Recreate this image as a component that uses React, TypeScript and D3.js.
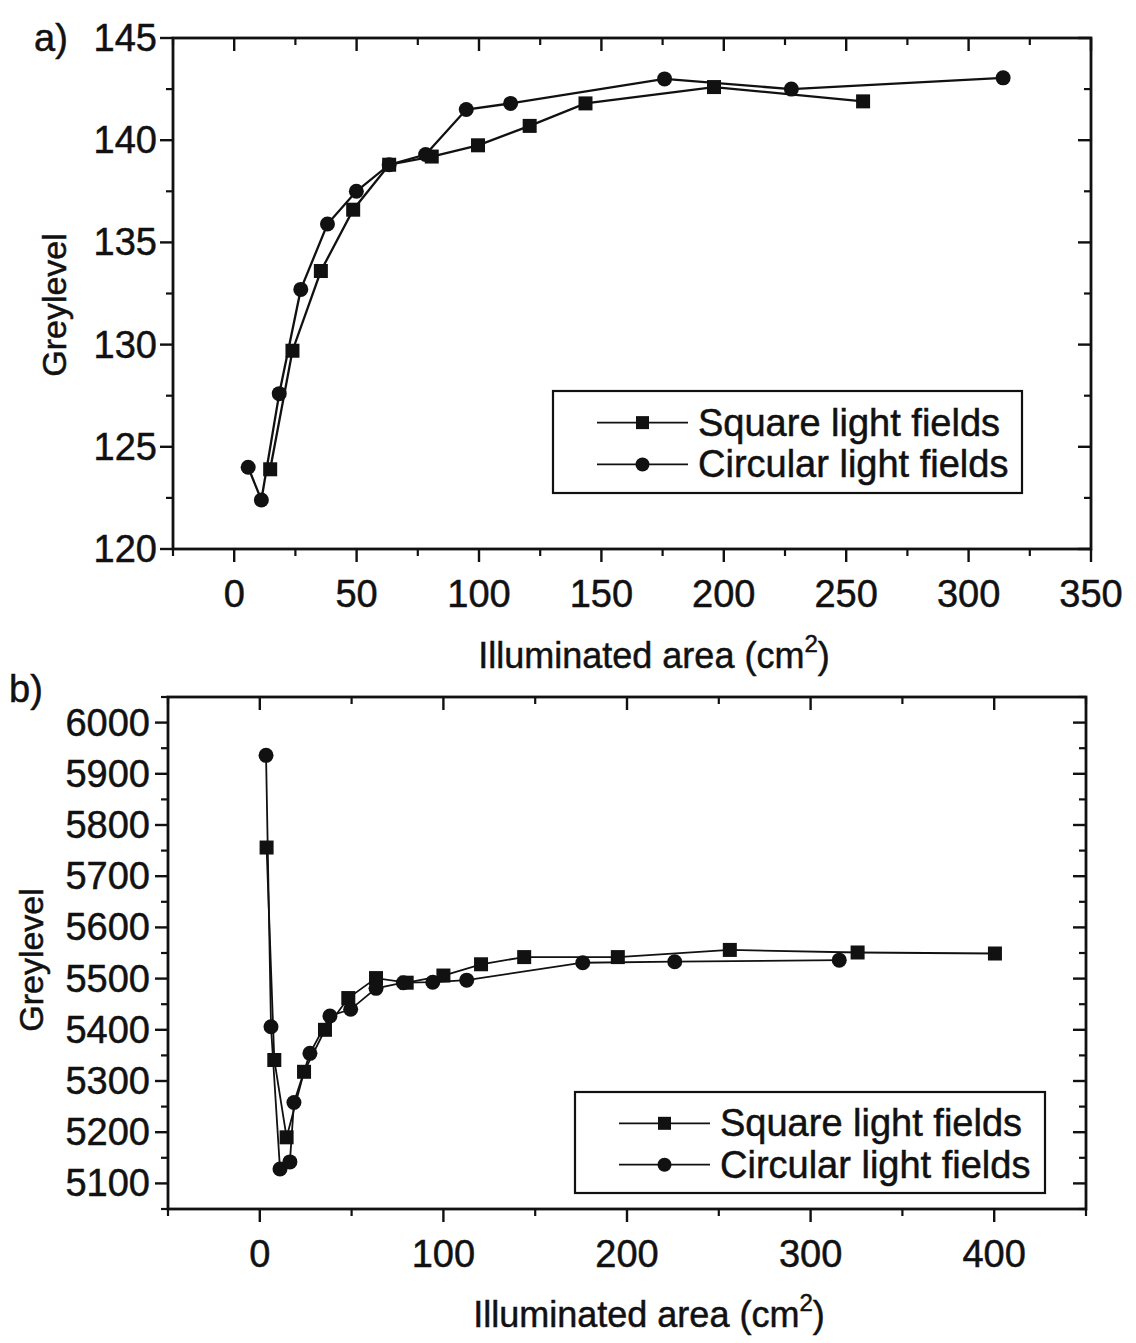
import React from "react";
import * as d3 from "d3";

// Panel a data
const squareAreaA = [14.7, 23.8, 35.4, 48.6, 63.3, 80.7, 99.6, 120.7, 143.5, 196, 256.9];
const squareGreyA = [123.9, 129.7, 133.6, 136.6, 138.8, 139.2, 139.75, 140.7, 141.8, 142.6, 141.9];
const circleAreaA = [5.7, 11.1, 18.4, 27.2, 38.1, 49.9, 63.3, 78.2, 94.8, 112.9, 175.8, 227.6, 314.1];
const circleGreyA = [124.0, 122.4, 127.6, 132.7, 135.9, 137.5, 138.8, 139.3, 141.5, 141.8, 143.0, 142.5, 143.05];

// Panel b data
const squareAreaB = [3.7, 7.9, 14.6, 24.1, 35.5, 48.2, 63.3, 80, 100, 120.5, 144, 195, 256, 325.6, 400.4];
const squareGreyB = [5756, 5341, 5190, 5318, 5400, 5462, 5501, 5492, 5506, 5528, 5542, 5542, 5556, 5551, 5549];
const circleAreaB = [3.4, 6.1, 11, 16.4, 18.6, 27.3, 38.2, 49.5, 63.3, 78.2, 94.2, 112.7, 175.9, 226, 315.6];
const circleGreyB = [5936, 5406, 5128, 5142, 5258, 5354, 5427, 5440, 5481, 5492, 5493, 5497, 5531, 5533, 5536];

const xTicksA = [0, 50, 100, 150, 200, 250, 300, 350];
const xMinorA = [-25, 25, 75, 125, 175, 225, 275, 325];
const yTicksA = [120, 125, 130, 135, 140, 145];
const yMinorA = [122.5, 127.5, 132.5, 137.5, 142.5];
const xTicksB = [0, 100, 200, 300, 400];
const xMinorB = [-50, 50, 150, 250, 350, 450];
const yTicksB = [5100, 5200, 5300, 5400, 5500, 5600, 5700, 5800, 5900, 6000];
const yMinorB = [5050, 5150, 5250, 5350, 5450, 5550, 5650, 5750, 5850, 5950, 6050];

const legendLabels = ["Square light fields", "Circular light fields"];

const FONT = "'Liberation Sans', Arial, Helvetica, sans-serif";
const INK = "#111";

type PanelProps = {
  x: d3.ScaleLinear<number, number>;
  y: d3.ScaleLinear<number, number>;
  xTicks: number[];
  xMinor: number[];
  yTicks: number[];
  yMinor: number[];
  sq: [number[], number[]];
  ci: [number[], number[]];
  label: string;
  labelPos: [number, number];
  yTitlePos: [number, number];
  xTitleY: number;
  legend: { x: number; y: number; w: number; h: number };
  lineW: number;
  yLabelGap: number;
};

const textStyle = { stroke: INK, strokeWidth: 0.5 } as const;

function Panel(p: PanelProps) {
  const [x0, x1] = p.x.range();
  const [y0, y1] = p.y.range();
  const line = d3
    .line<[number, number]>()
    .x((d) => p.x(d[0]))
    .y((d) => p.y(d[1]));
  const sqPts: [number, number][] = p.sq[0].map((a, i) => [a, p.sq[1][i]]);
  const ciPts: [number, number][] = p.ci[0].map((a, i) => [a, p.ci[1][i]]);
  const maj = 13;
  const min = 7;
  const sqSize = 14;
  const r = 7.5;
  const lg = p.legend;
  const row1 = lg.y + lg.h * 0.31;
  const row2 = lg.y + lg.h * 0.72;
  const lx0 = lg.x + 44;
  const lx1 = lg.x + 135;
  const lm = (lx0 + lx1) / 2;
  return (
    <g>
      <text x={p.labelPos[0]} y={p.labelPos[1]} fontSize={38} fontFamily={FONT} fill={INK} style={textStyle}>
        {p.label}
      </text>
      <rect x={x0} y={y1} width={x1 - x0} height={y0 - y1} fill="none" stroke={INK} strokeWidth={2.8} />
      {p.xTicks.map((t) => (
        <g key={"xt" + t}>
          <line x1={p.x(t)} x2={p.x(t)} y1={y0} y2={y0 + maj} stroke={INK} strokeWidth={2.4} />
          <line x1={p.x(t)} x2={p.x(t)} y1={y1} y2={y1 + maj} stroke={INK} strokeWidth={2.4} />
          <text x={p.x(t)} y={y0 + 58} textAnchor="middle" fontSize={38} fontFamily={FONT} fill={INK} style={textStyle}>
            {t}
          </text>
        </g>
      ))}
      {p.xMinor.map((t) => (
        <g key={"xm" + t}>
          <line x1={p.x(t)} x2={p.x(t)} y1={y0} y2={y0 + min} stroke={INK} strokeWidth={2.2} />
          <line x1={p.x(t)} x2={p.x(t)} y1={y1} y2={y1 + min} stroke={INK} strokeWidth={2.2} />
        </g>
      ))}
      {p.yTicks.map((t) => (
        <g key={"yt" + t}>
          <line x1={x0 - maj} x2={x0} y1={p.y(t)} y2={p.y(t)} stroke={INK} strokeWidth={2.4} />
          <line x1={x1 - maj} x2={x1} y1={p.y(t)} y2={p.y(t)} stroke={INK} strokeWidth={2.4} />
          <text
            x={x0 - p.yLabelGap}
            y={p.y(t) + 13}
            textAnchor="end"
            fontSize={38}
            fontFamily={FONT}
            fill={INK}
            style={textStyle}
          >
            {t}
          </text>
        </g>
      ))}
      {p.yMinor.map((t) => (
        <g key={"ym" + t}>
          <line x1={x0 - min} x2={x0} y1={p.y(t)} y2={p.y(t)} stroke={INK} strokeWidth={2.2} />
          <line x1={x1 - min} x2={x1} y1={p.y(t)} y2={p.y(t)} stroke={INK} strokeWidth={2.2} />
        </g>
      ))}
      <text
        transform={`translate(${p.yTitlePos[0]},${p.yTitlePos[1]}) rotate(-90)`}
        textAnchor="middle"
        fontSize={34}
        fontFamily={FONT}
        fill={INK}
        style={textStyle}
      >
        Greylevel
      </text>
      <text x={(x0 + x1) / 2 + 22} y={p.xTitleY} textAnchor="middle" fontSize={36} fontFamily={FONT} fill={INK} style={textStyle}>
        Illuminated area (cm
        <tspan fontSize={24} dy={-16}>
          2
        </tspan>
        <tspan dy={16}>)</tspan>
      </text>
      <path d={line(sqPts) || ""} fill="none" stroke={INK} strokeWidth={p.lineW} />
      <path d={line(ciPts) || ""} fill="none" stroke={INK} strokeWidth={p.lineW} />
      {sqPts.map((d, i) => (
        <rect
          key={"s" + i}
          x={p.x(d[0]) - sqSize / 2}
          y={p.y(d[1]) - sqSize / 2}
          width={sqSize}
          height={sqSize}
          fill={INK}
        />
      ))}
      {ciPts.map((d, i) => (
        <circle key={"c" + i} cx={p.x(d[0])} cy={p.y(d[1])} r={r} fill={INK} />
      ))}
      <rect x={lg.x} y={lg.y} width={lg.w} height={lg.h} fill="#fff" stroke={INK} strokeWidth={2.2} />
      <line x1={lx0} x2={lx1} y1={row1} y2={row1} stroke={INK} strokeWidth={1.8} />
      <rect x={lm - 6.5} y={row1 - 6.5} width={13} height={13} fill={INK} />
      <text x={lx1 + 10} y={row1 + 13} fontSize={38} fontFamily={FONT} fill={INK} style={textStyle}>
        {legendLabels[0]}
      </text>
      <line x1={lx0} x2={lx1} y1={row2} y2={row2} stroke={INK} strokeWidth={1.8} />
      <circle cx={lm} cy={row2} r={7} fill={INK} />
      <text x={lx1 + 10} y={row2 + 13} fontSize={38} fontFamily={FONT} fill={INK} style={textStyle}>
        {legendLabels[1]}
      </text>
    </g>
  );
}

export default function App() {
  const xA = d3.scaleLinear().domain([-25, 350]).range([173, 1091]);
  const yA = d3.scaleLinear().domain([120, 145]).range([549, 38]);
  const xB = d3.scaleLinear().domain([-50, 450]).range([168, 1086]);
  const yB = d3.scaleLinear().domain([5050, 6050]).range([1209, 697]);
  return (
    <svg
      width={1136}
      height={1343}
      style={{ position: "absolute", left: 0, top: 0, background: "#fff" }}
    >
      <rect x={0} y={0} width={1136} height={1343} fill="#fff" />
      <Panel
        x={xA}
        y={yA}
        xTicks={xTicksA}
        xMinor={xMinorA}
        yTicks={yTicksA}
        yMinor={yMinorA}
        sq={[squareAreaA, squareGreyA]}
        ci={[circleAreaA, circleGreyA]}
        label="a)"
        labelPos={[34, 51]}
        yTitlePos={[66, 305]}
        xTitleY={668}
        legend={{ x: 553, y: 391, w: 469, h: 102 }}
        lineW={2.3}
        yLabelGap={16}
      />
      <Panel
        x={xB}
        y={yB}
        xTicks={xTicksB}
        xMinor={xMinorB}
        yTicks={yTicksB}
        yMinor={yMinorB}
        sq={[squareAreaB, squareGreyB]}
        ci={[circleAreaB, circleGreyB]}
        label="b)"
        labelPos={[9, 702]}
        yTitlePos={[43, 960]}
        xTitleY={1327}
        legend={{ x: 575, y: 1092, w: 470, h: 101 }}
        lineW={1.8}
        yLabelGap={18}
      />
    </svg>
  );
}
